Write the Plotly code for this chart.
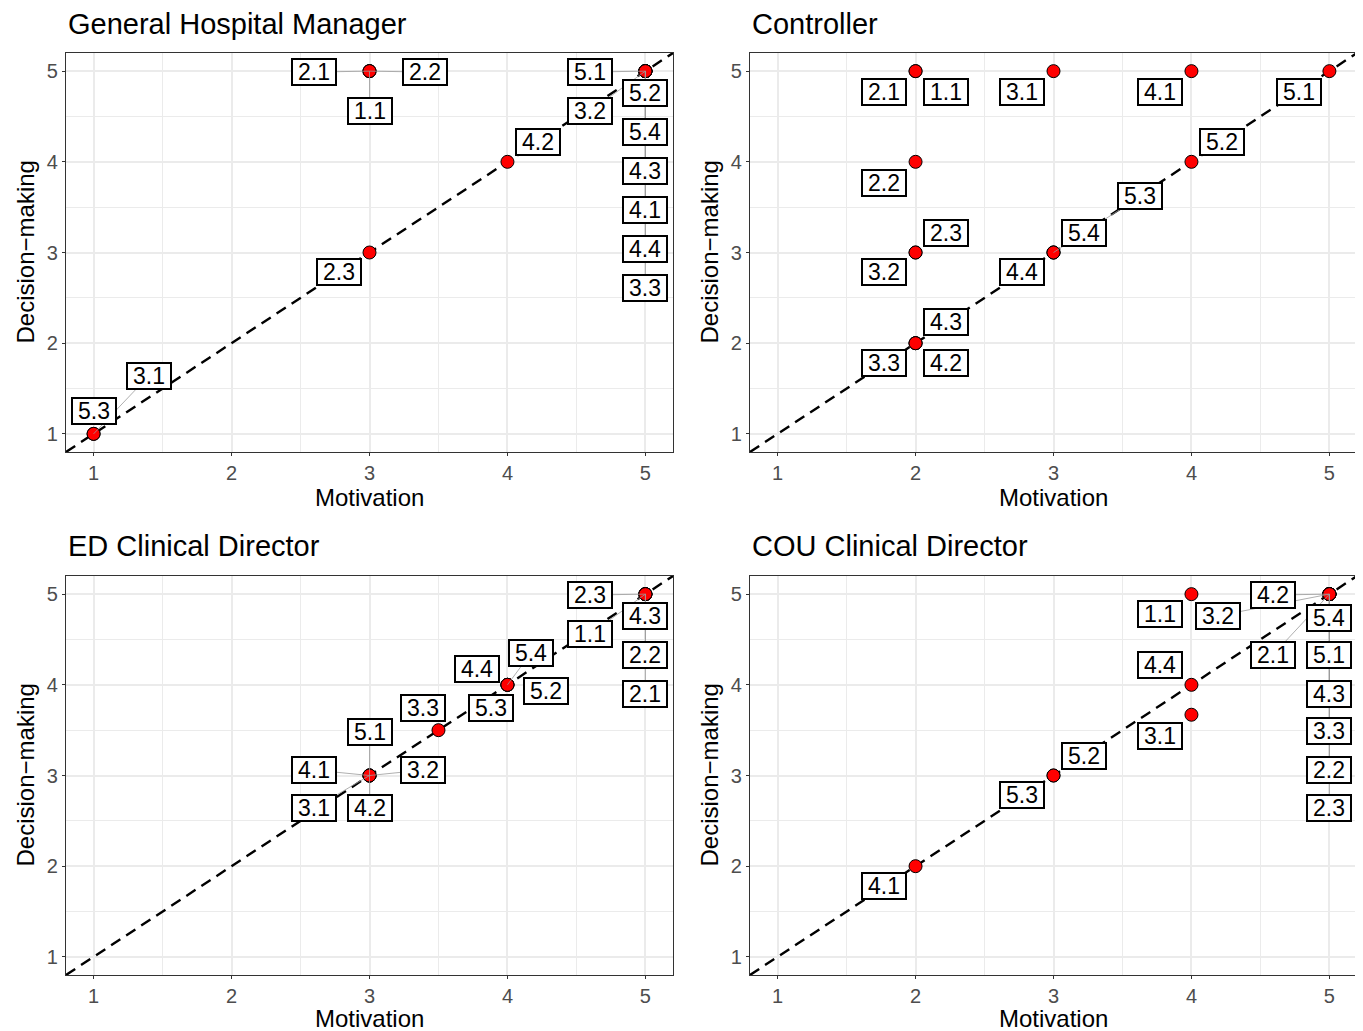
import plotly.graph_objects as go

# ---------------- data ----------------
panel_titles = ["General Hospital Manager", "Controller",
                "ED Clinical Director", "COU Clinical Director"]
x_title = "Motivation"
y_title = "Decision\u2212making"
tick_vals = [1, 2, 3, 4, 5]

# General Hospital Manager
ghm_items = ["2.1", "2.2", "1.1", "5.1", "5.2", "3.2", "5.4", "4.3", "4.1", "4.4", "3.3", "4.2", "2.3", "3.1", "5.3"]
ghm_motivation = [3, 3, 3, 5, 5, 5, 5, 5, 5, 5, 5, 4, 3, 1, 1]
ghm_decision = [5, 5, 5, 5, 5, 5, 5, 5, 5, 5, 5, 4, 3, 1, 1]

# Controller
ctl_items = ["2.1", "1.1", "3.1", "4.1", "5.1", "5.2", "2.2", "5.3", "2.3", "5.4", "3.2", "4.4", "4.3", "3.3", "4.2"]
ctl_motivation = [2, 2, 3, 4, 5, 4, 2, 3, 2, 3, 2, 3, 2, 2, 2]
ctl_decision = [5, 5, 5, 5, 5, 4, 4, 3, 3, 3, 3, 3, 2, 2, 2]

# ED Clinical Director
ed_items = ["2.3", "4.3", "1.1", "2.2", "2.1", "5.4", "4.4", "5.2", "5.3", "3.3", "5.1", "4.1", "3.2", "3.1", "4.2"]
ed_motivation = [5, 5, 5, 5, 5, 4, 4, 4, 4, 3.5, 3, 3, 3, 3, 3]
ed_decision = [5, 5, 5, 5, 5, 4, 4, 4, 4, 3.5, 3, 3, 3, 3, 3]

# COU Clinical Director
cou_items = ["1.1", "3.2", "4.2", "5.4", "2.1", "5.1", "4.4", "4.3", "3.1", "3.3", "2.2", "2.3", "5.2", "5.3", "4.1"]
cou_motivation = [4, 5, 5, 5, 5, 5, 4, 5, 4, 5, 5, 5, 3, 3, 2]
cou_decision = [5, 5, 5, 5, 5, 5, 4, 5, 3.67, 5, 5, 5, 3, 3, 2]

# ---------------- label placement (repelled positions, layout only) ----------------
ghm_label_x = [2.60, 3.40, 3.00, 4.60, 5.00, 4.60, 5.00, 5.00, 5.00, 5.00, 5.00, 4.22, 2.78, 1.40, 1.00]
ghm_label_y = [4.99, 4.99, 4.56, 4.99, 4.76, 4.56, 4.33, 3.90, 3.47, 3.04, 2.61, 4.22, 2.78, 1.64, 1.25]
ctl_label_x = [1.77, 2.22, 2.77, 3.77, 4.78, 4.22, 1.77, 3.63, 2.22, 3.22, 1.77, 2.77, 2.22, 1.77, 2.22]
ctl_label_y = [4.77, 4.77, 4.77, 4.77, 4.77, 4.22, 3.77, 3.62, 3.22, 3.22, 2.78, 2.78, 2.23, 1.78, 1.78]
ed_label_x = [4.60, 5.00, 4.60, 5.00, 5.00, 4.17, 3.78, 4.28, 3.88, 3.39, 3.00, 2.60, 3.39, 2.60, 3.00]
ed_label_y = [4.99, 4.76, 4.56, 4.33, 3.90, 4.35, 4.17, 3.93, 3.74, 3.74, 3.48, 3.06, 3.06, 2.64, 2.64]
cou_label_x = [3.77, 4.19, 4.59, 5.00, 4.59, 5.00, 3.77, 5.00, 3.77, 5.00, 5.00, 5.00, 3.22, 2.77, 1.77]
cou_label_y = [4.78, 4.76, 4.99, 4.74, 4.33, 4.33, 4.22, 3.90, 3.44, 3.49, 3.06, 2.64, 3.22, 2.78, 1.78]

panels = [
    (ghm_items, ghm_motivation, ghm_decision, ghm_label_x, ghm_label_y),
    (ctl_items, ctl_motivation, ctl_decision, ctl_label_x, ctl_label_y),
    (ed_items, ed_motivation, ed_decision, ed_label_x, ed_label_y),
    (cou_items, cou_motivation, cou_decision, cou_label_x, cou_label_y),
]

# ---------------- layout geometry ----------------
# the page body has an 8px margin, so the figure is drawn 8px smaller and
# all target pixel positions are shifted by that offset
OFF = 8
W, H = 1363 - OFF, 1031 - OFF
ML, MR, MT, MB = 58, 6, 45, 56
PW = W - ML - MR
PH = H - MT - MB
RANGE = [0.8, 5.2]

col_px = [(66, 673), (750, 1357)]   # screen pixels
row_px = [(53, 452), (576, 975)]


def px_to_paper_x(px):
    return (px - OFF - ML) / PW


def px_to_paper_y(py):
    return (H - MB - (py - OFF)) / PH


FONT = "Liberation Sans, Arial, Helvetica, sans-serif"
BOX_HW, BOX_HH = 22.5, 13.5  # label box half size in px
MIN_SEG = 17  # min gap (px) to draw a segment

fig = go.Figure()
layout_axes = {}
annotations = []

for i, (items, mot, dec, lx, ly) in enumerate(panels):
    r, c = divmod(i, 2)
    n = i + 1
    xa = "x" if n == 1 else f"x{n}"
    ya = "y" if n == 1 else f"y{n}"
    x0p, x1p = col_px[c]
    y0p, y1p = row_px[r]
    sx = (x1p - x0p) / (RANGE[1] - RANGE[0])
    sy = (y1p - y0p) / (RANGE[1] - RANGE[0])

    axis_common = dict(
        range=RANGE, tickvals=tick_vals, ticks="outside", ticklen=3, tickwidth=1.3,
        tickcolor="#333333", tickfont=dict(family=FONT, size=20, color="#4D4D4D"),
        showline=True, mirror=True, linecolor="#333333", linewidth=1.3,
        showgrid=True, gridcolor="#EBEBEB", gridwidth=1.6, zeroline=False,
        minor=dict(dtick=0.5, tick0=0.5, showgrid=True, gridcolor="#EBEBEB", gridwidth=0.8),
        fixedrange=True,
    )
    layout_axes["xaxis" if n == 1 else f"xaxis{n}"] = dict(
        axis_common, domain=[px_to_paper_x(x0p), px_to_paper_x(x1p)], anchor=ya)
    layout_axes["yaxis" if n == 1 else f"yaxis{n}"] = dict(
        axis_common, domain=[px_to_paper_y(y1p), px_to_paper_y(y0p)], anchor=xa)

    # diagonal reference line y = x
    fig.add_trace(go.Scatter(x=RANGE, y=RANGE, mode="lines", xaxis=xa, yaxis=ya,
                             line=dict(color="black", width=2.4, dash="11px,7px"),
                             hoverinfo="skip", showlegend=False))

    # points
    fig.add_trace(go.Scatter(x=mot, y=dec, mode="markers", xaxis=xa, yaxis=ya,
                             marker=dict(size=13, color="#FF0000",
                                         line=dict(color="black", width=1)),
                             showlegend=False, hoverinfo="skip"))

    # segments (from point to label) when label is far enough
    seg_x, seg_y = [], []
    for mx, my, tx, ty in zip(mot, dec, lx, ly):
        dxp = abs(tx - mx) * sx
        dyp = abs(ty - my) * sy
        gx = max(dxp - BOX_HW, 0)
        gy = max(dyp - BOX_HH, 0)
        if (gx ** 2 + gy ** 2) ** 0.5 > MIN_SEG:
            seg_x += [mx, tx, None]
            seg_y += [my, ty, None]
    fig.add_trace(go.Scatter(x=seg_x, y=seg_y, mode="lines", xaxis=xa, yaxis=ya,
                             line=dict(color="#9A9A9A", width=0.8),
                             showlegend=False, hoverinfo="skip"))

    # labels
    for t, tx, ty in zip(items, lx, ly):
        annotations.append(dict(
            x=tx, y=ty, xref=xa, yref=ya, text=t, showarrow=False,
            font=dict(family=FONT, size=23, color="black"),
            bgcolor="white", bordercolor="black", borderwidth=2, borderpad=1,
            width=40, height=22, align="center", valign="middle",
        ))

    # panel title
    title_py = 24 if r == 0 else 546
    annotations.append(dict(
        x=px_to_paper_x(x0p), y=px_to_paper_y(title_py), xref="paper", yref="paper",
        text=panel_titles[i], showarrow=False, xanchor="left", yanchor="middle",
        font=dict(family=FONT, size=29, color="black")))
    # x-axis title
    xt_py = 497 if r == 0 else 1018
    annotations.append(dict(
        x=px_to_paper_x((x0p + x1p) / 2), y=px_to_paper_y(xt_py), xref="paper", yref="paper",
        text=x_title, showarrow=False, xanchor="center", yanchor="middle",
        height=24, valign="middle",
        font=dict(family=FONT, size=24, color="black")))
    # y-axis title
    yt_px = 25 if c == 0 else 709
    annotations.append(dict(
        x=px_to_paper_x(yt_px), y=px_to_paper_y((y0p + y1p) / 2), xref="paper", yref="paper",
        text=y_title, showarrow=False, xanchor="center", yanchor="middle", textangle=-90,
        font=dict(family=FONT, size=24, color="black")))

fig.update_layout(
    width=W, height=H,
    margin=dict(l=ML, r=MR, t=MT, b=MB, pad=0),
    paper_bgcolor="white", plot_bgcolor="white",
    annotations=annotations,
    showlegend=False,
    **layout_axes,
)

fig.write_html("out.html")
